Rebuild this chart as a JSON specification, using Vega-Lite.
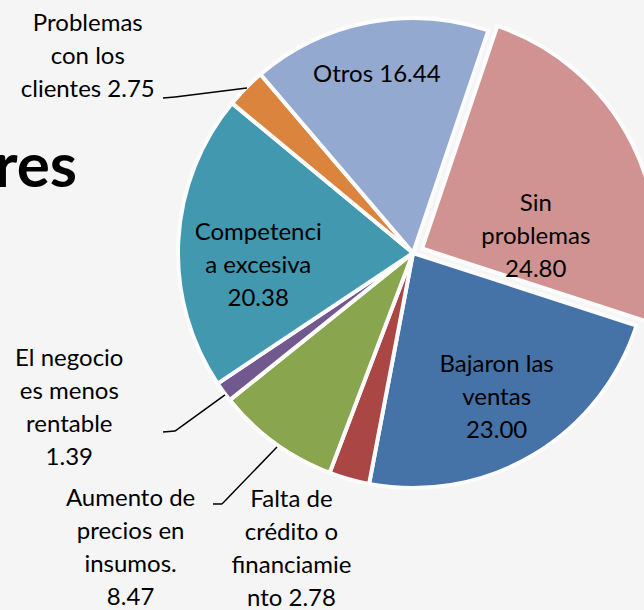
{
  "$schema": "https://vega.github.io/schema/vega-lite/v6.json",
  "width": 644,
  "height": 610,
  "autosize": {"type": "none"},
  "padding": 0,
  "background": "#f5f5f5",
  "config": {"view": {"stroke": null}, "text": {"font": "Lato"}},
  "data": {
    "values": [
      {"orden": 1, "cat": "Sin problemas", "valor": 24.80, "label": "Sin\nproblemas\n24.80"},
      {"orden": 2, "cat": "Bajaron las ventas", "valor": 23.00, "label": "Bajaron las\nventas\n23.00"},
      {"orden": 3, "cat": "Falta de crédito o financiamiento", "valor": 2.78, "label": "Falta de\ncrédito o\nfinanciamie\nnto 2.78"},
      {"orden": 4, "cat": "Aumento de precios en insumos.", "valor": 8.47, "label": "Aumento de\nprecios en\ninsumos.\n8.47"},
      {"orden": 5, "cat": "El negocio es menos rentable", "valor": 1.39, "label": "El negocio\nes menos\nrentable\n1.39"},
      {"orden": 6, "cat": "Competencia excesiva", "valor": 20.38, "label": "Competenci\na excesiva\n20.38"},
      {"orden": 7, "cat": "Problemas con los clientes", "valor": 2.75, "label": "Problemas\ncon los\nclientes 2.75"},
      {"orden": 8, "cat": "Otros", "valor": 16.44, "label": "Otros 16.44"}
    ]
  },
  "encoding": {
    "theta": {"field": "valor", "type": "quantitative", "stack": true, "scale": {"range": [0.3264, 6.6096]}},
    "order": {"field": "orden", "type": "quantitative"},
    "x": {"datum": 0.6413, "type": "quantitative", "scale": {"domain": [0, 1], "nice": false, "zero": false}, "axis": null},
    "y": {"datum": 0.4148, "type": "quantitative", "scale": {"domain": [0, 1], "nice": false, "zero": false, "reverse": true}, "axis": null}
  },
  "layer": [
    {
      "mark": {"type": "arc", "outerRadius": 235, "stroke": "#fcfcfc", "strokeWidth": 4},
      "encoding": {
        "color": {"field": "cat", "type": "nominal", "legend": null,
          "scale": {"domain": ["Sin problemas", "Bajaron las ventas", "Falta de crédito o financiamiento", "Aumento de precios en insumos.", "El negocio es menos rentable", "Competencia excesiva", "Problemas con los clientes", "Otros"],
                    "range": ["#D19392", "#4572A7", "#AA4643", "#89A54E", "#71588F", "#4198AF", "#DB843D", "#93A9CF"]}},
        "opacity": {"condition": {"test": "datum.cat === 'Sin problemas'", "value": 0}, "value": 1}
      }
    },
    {
      "mark": {"type": "arc", "outerRadius": 235, "stroke": "#fcfcfc", "strokeWidth": 4},
      "encoding": {
        "x": {"datum": 0.6553, "type": "quantitative"},
        "y": {"datum": 0.4074, "type": "quantitative"},
        "color": {"field": "cat", "type": "nominal", "legend": null},
        "opacity": {"condition": {"test": "datum.cat === 'Sin problemas'", "value": 1}, "value": 0}
      }
    },
    {
      "mark": {"type": "text", "radius": 181, "dx": -2, "fontSize": 24, "lineHeight": 33, "lineBreak": "\n", "align": "center", "baseline": "middle", "color": "#000000"},
      "encoding": {"text": {"condition": {"test": "datum.cat === 'Otros'", "field": "label", "type": "nominal"}, "value": ""}}
    },
    {
      "mark": {"type": "text", "radius": 168, "dx": -2, "dy": -33, "fontSize": 24, "lineHeight": 33, "lineBreak": "\n", "align": "center", "baseline": "middle", "color": "#000000"},
      "encoding": {"text": {"condition": {"test": "datum.cat === 'Bajaron las ventas'", "field": "label", "type": "nominal"}, "value": ""}}
    },
    {
      "mark": {"type": "text", "radius": 155, "dy": -12, "fontSize": 24, "lineHeight": 33, "lineBreak": "\n", "align": "center", "baseline": "middle", "color": "#000000"},
      "encoding": {"text": {"condition": {"test": "datum.cat === 'Competencia excesiva'", "field": "label", "type": "nominal"}, "value": ""}}
    },
    {
      "mark": {"type": "text", "radius": 115, "dx": 11, "dy": 7, "fontSize": 24, "lineHeight": 33, "lineBreak": "\n", "align": "center", "baseline": "middle", "color": "#000000"},
      "encoding": {
        "x": {"datum": 0.6553, "type": "quantitative"},
        "y": {"datum": 0.4074, "type": "quantitative"},
        "text": {"condition": {"test": "datum.cat === 'Sin problemas'", "field": "label", "type": "nominal"}, "value": ""}}
    },
    {
      "mark": {"type": "text", "radius": 260, "dx": -140, "dy": -46.5, "fontSize": 24, "lineHeight": 33, "lineBreak": "\n", "align": "center", "baseline": "middle", "color": "#000000"},
      "encoding": {"text": {"condition": {"test": "datum.cat === 'Problemas con los clientes'", "field": "label", "type": "nominal"}, "value": ""}}
    },
    {
      "mark": {"type": "text", "radius": 260, "dx": -134, "dy": -48, "fontSize": 24, "lineHeight": 33, "lineBreak": "\n", "align": "center", "baseline": "middle", "color": "#000000"},
      "encoding": {"text": {"condition": {"test": "datum.cat === 'El negocio es menos rentable'", "field": "label", "type": "nominal"}, "value": ""}}
    },
    {
      "mark": {"type": "text", "radius": 300, "dx": -106, "dy": 3.5, "fontSize": 24, "lineHeight": 33, "lineBreak": "\n", "align": "center", "baseline": "middle", "color": "#000000"},
      "encoding": {"text": {"condition": {"test": "datum.cat === 'Aumento de precios en insumos.'", "field": "label", "type": "nominal"}, "value": ""}}
    },
    {
      "mark": {"type": "text", "radius": 300, "dx": -40, "dy": -41.5, "fontSize": 24, "lineHeight": 33, "lineBreak": "\n", "align": "center", "baseline": "middle", "color": "#000000"},
      "encoding": {"text": {"condition": {"test": "datum.cat === 'Falta de crédito o financiamiento'", "field": "label", "type": "nominal"}, "value": ""}}
    },
    {
      "data": {"values": [{}]},
      "mark": {"type": "rule", "color": "#000000", "strokeWidth": 1.5},
      "encoding": {"theta": null, "order": null, "x": {"datum": 0.2531, "type": "quantitative"}, "y": {"datum": 0.1607, "type": "quantitative"}, "x2": {"datum": 0.2717}, "y2": {"datum": 0.1590}}
    },
    {
      "data": {"values": [{}]},
      "mark": {"type": "rule", "color": "#000000", "strokeWidth": 1.5},
      "encoding": {"theta": null, "order": null, "x": {"datum": 0.2717, "type": "quantitative"}, "y": {"datum": 0.1590, "type": "quantitative"}, "x2": {"datum": 0.3835}, "y2": {"datum": 0.1443}}
    },
    {
      "data": {"values": [{}]},
      "mark": {"type": "rule", "color": "#000000", "strokeWidth": 1.5},
      "encoding": {"theta": null, "order": null, "x": {"datum": 0.2531, "type": "quantitative"}, "y": {"datum": 0.7082, "type": "quantitative"}, "x2": {"datum": 0.2717}, "y2": {"datum": 0.7066}}
    },
    {
      "data": {"values": [{}]},
      "mark": {"type": "rule", "color": "#000000", "strokeWidth": 1.5},
      "encoding": {"theta": null, "order": null, "x": {"datum": 0.2717, "type": "quantitative"}, "y": {"datum": 0.7066, "type": "quantitative"}, "x2": {"datum": 0.3494}, "y2": {"datum": 0.6475}}
    },
    {
      "data": {"values": [{}]},
      "mark": {"type": "rule", "color": "#000000", "strokeWidth": 1.5},
      "encoding": {"theta": null, "order": null, "x": {"datum": 0.3307, "type": "quantitative"}, "y": {"datum": 0.8262, "type": "quantitative"}, "x2": {"datum": 0.3447}, "y2": {"datum": 0.8262}}
    },
    {
      "data": {"values": [{}]},
      "mark": {"type": "rule", "color": "#000000", "strokeWidth": 1.5},
      "encoding": {"theta": null, "order": null, "x": {"datum": 0.3447, "type": "quantitative"}, "y": {"datum": 0.8262, "type": "quantitative"}, "x2": {"datum": 0.4301}, "y2": {"datum": 0.7328}}
    },
    {
      "data": {"values": [{"titulo": "res"}]},
      "mark": {"type": "text", "align": "right", "baseline": "alphabetic", "fontSize": 62, "fontWeight": "bold", "color": "#000000"},
      "encoding": {"theta": null, "order": null, "x": {"datum": 0.1196, "type": "quantitative"}, "y": {"datum": 0.3066, "type": "quantitative"}, "text": {"field": "titulo", "type": "nominal"}}
    }
  ]
}
